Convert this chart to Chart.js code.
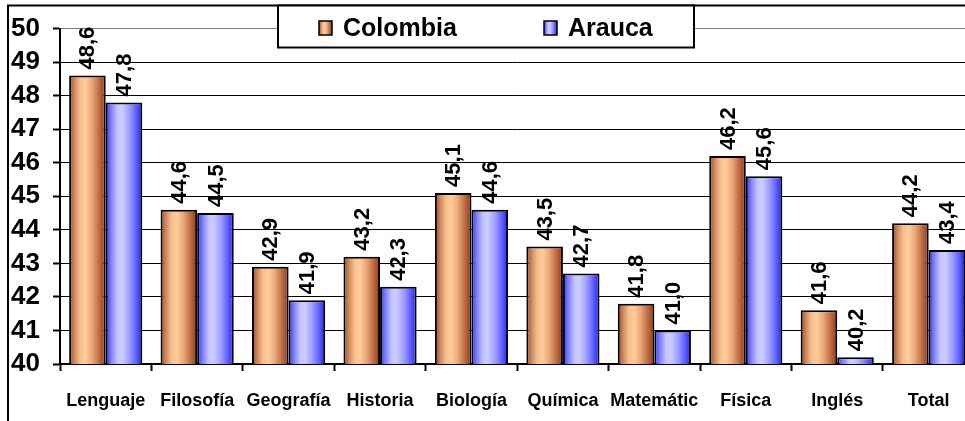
<!DOCTYPE html>
<html>
<head>
<meta charset="utf-8">
<script src="https://cdn.jsdelivr.net/npm/chart.js@4/dist/chart.umd.min.js"></script>
<style>
html,body{margin:0;padding:0;background:#fff;overflow:hidden;width:965px;height:421px;}
#wrap{position:relative;width:985px;height:421px;}
</style>
</head>
<body>
<div id="wrap"><canvas id="c" width="985" height="421"></canvas></div>
<script>
const categories = ['Lenguaje','Filosofía','Geografía','Historia','Biología','Química','Matemátic','Física','Inglés','Total'];
const colombia = [48.6, 44.6, 42.9, 43.2, 45.1, 43.5, 41.8, 46.2, 41.6, 44.2];
const arauca   = [47.8, 44.5, 41.9, 42.3, 44.6, 42.7, 41.0, 45.6, 40.2, 43.4];
const seriesNames = ['Colombia','Arauca'];
const yMin = 40, yMax = 50, yStep = 1;

const FONT = '"Liberation Sans", Arial, Helvetica, sans-serif';
const stopsCol = [[0,'#9a4825'],[0.15,'#cf8a5e'],[0.3,'#f6bf8e'],[0.45,'#ffcc99'],[0.62,'#eaa97a'],[0.82,'#bf6c42'],[1,'#8c3612']];
const stopsAra = [[0,'#3030ff'],[0.15,'#8080ff'],[0.32,'#c4c4ff'],[0.45,'#ccccff'],[0.65,'#9d9dff'],[0.85,'#5a5aff'],[1,'#1c1cff']];
const CAT_PCT = 0.8;

function barGradient(ctx, stops, dsIndex) {
  const chart = ctx.chart;
  const xs = chart.scales && chart.scales.x;
  if (!chart.chartArea || !xs || ctx.dataIndex === undefined) return stops[3][1];
  const cw = xs.width / categories.length;
  const bw = cw * CAT_PCT / 2;
  const c = xs.getPixelForValue(ctx.dataIndex);
  const x0 = dsIndex === 0 ? c - bw : c;
  const g = chart.ctx.createLinearGradient(x0, 0, x0 + bw, 0);
  stops.forEach(s => g.addColorStop(s[0], s[1]));
  return g;
}

const framePlugin = {
  id: 'frameLegend',
  afterDraw(chart) {
    const c = chart.ctx;
    c.save();
    c.strokeStyle = '#000';
    c.lineWidth = 2;
    c.beginPath();
    c.moveTo(8, 440); c.lineTo(8, 5.5); c.lineTo(1000, 5.5);
    c.stroke();
    const lx = 278, ly = 5.5, lw = 416, lh = 42;
    c.fillStyle = '#fff';
    c.fillRect(lx, ly, lw, lh);
    c.strokeRect(lx, ly, lw, lh);
    const items = [{x: 319, stops: stopsCol, name: seriesNames[0]}, {x: 544, stops: stopsAra, name: seriesNames[1]}];
    items.forEach(it => {
      const g = c.createLinearGradient(it.x, 0, it.x + 13, 0);
      it.stops.forEach(s => g.addColorStop(s[0], s[1]));
      c.fillStyle = g;
      c.fillRect(it.x, 21, 13, 14);
      c.lineWidth = 1.5;
      c.strokeRect(it.x, 21, 13, 14);
      c.fillStyle = '#000';
      c.font = 'bold 25px ' + FONT;
      c.textAlign = 'left';
      c.textBaseline = 'middle';
      c.fillText(it.name, it.x + 24, 29);
    });
    c.restore();
  },
  afterDatasetsDraw(chart) {
    const c = chart.ctx;
    c.save();
    c.fillStyle = '#000';
    c.font = 'bold 22px ' + FONT;
    c.textAlign = 'left';
    c.textBaseline = 'middle';
    chart.data.datasets.forEach((ds, di) => {
      const meta = chart.getDatasetMeta(di);
      meta.data.forEach((bar, i) => {
        const txt = ds.data[i].toFixed(1).replace('.', ',');
        c.save();
        c.translate(bar.x + 1, bar.y - 6);
        c.rotate(-Math.PI / 2);
        c.fillText(txt, 0, 0);
        c.restore();
      });
    });
    c.restore();
  }
};

new Chart(document.getElementById('c'), {
  type: 'bar',
  data: {
    labels: categories,
    datasets: [
      { label: seriesNames[0], data: colombia, backgroundColor: ctx => barGradient(ctx, stopsCol, 0),
        borderColor: '#000', borderWidth: 2, borderSkipped: false, barPercentage: 1, categoryPercentage: CAT_PCT },
      { label: seriesNames[1], data: arauca, backgroundColor: ctx => barGradient(ctx, stopsAra, 1),
        borderColor: '#000', borderWidth: 2, borderSkipped: false, barPercentage: 1, categoryPercentage: CAT_PCT }
    ]
  },
  options: {
    responsive: false,
    animation: false,
    devicePixelRatio: 1,
    layout: { padding: { left: 10, top: 25, right: 10.6, bottom: 0 } },
    plugins: { legend: { display: false }, tooltip: { enabled: false } },
    scales: {
      x: {
        afterFit: s => { s.height = 57; },
        grid: { display: true, drawOnChartArea: false, drawTicks: true, tickLength: 7, tickWidth: 2, tickColor: '#000', offset: true },
        border: { display: true, color: '#000', width: 2 },
        ticks: { color: '#000', font: { family: FONT, size: 18, weight: 'bold' }, padding: 19, maxRotation: 0, autoSkip: false }
      },
      y: {
        min: yMin, max: yMax,
        afterFit: s => { s.width = 50; },
        grid: { color: ctx => (ctx.tick && ctx.tick.value === yMax) ? '#808080' : '#000', lineWidth: 1, drawTicks: true, tickLength: 7, tickWidth: 2, tickColor: '#000' },
        border: { display: true, color: '#000', width: 2 },
        ticks: { stepSize: yStep, autoSkip: false, color: '#000', font: { family: FONT, size: 26, weight: 'bold' }, padding: 13 }
      }
    }
  },
  plugins: [framePlugin]
});
</script>
</body>
</html>
